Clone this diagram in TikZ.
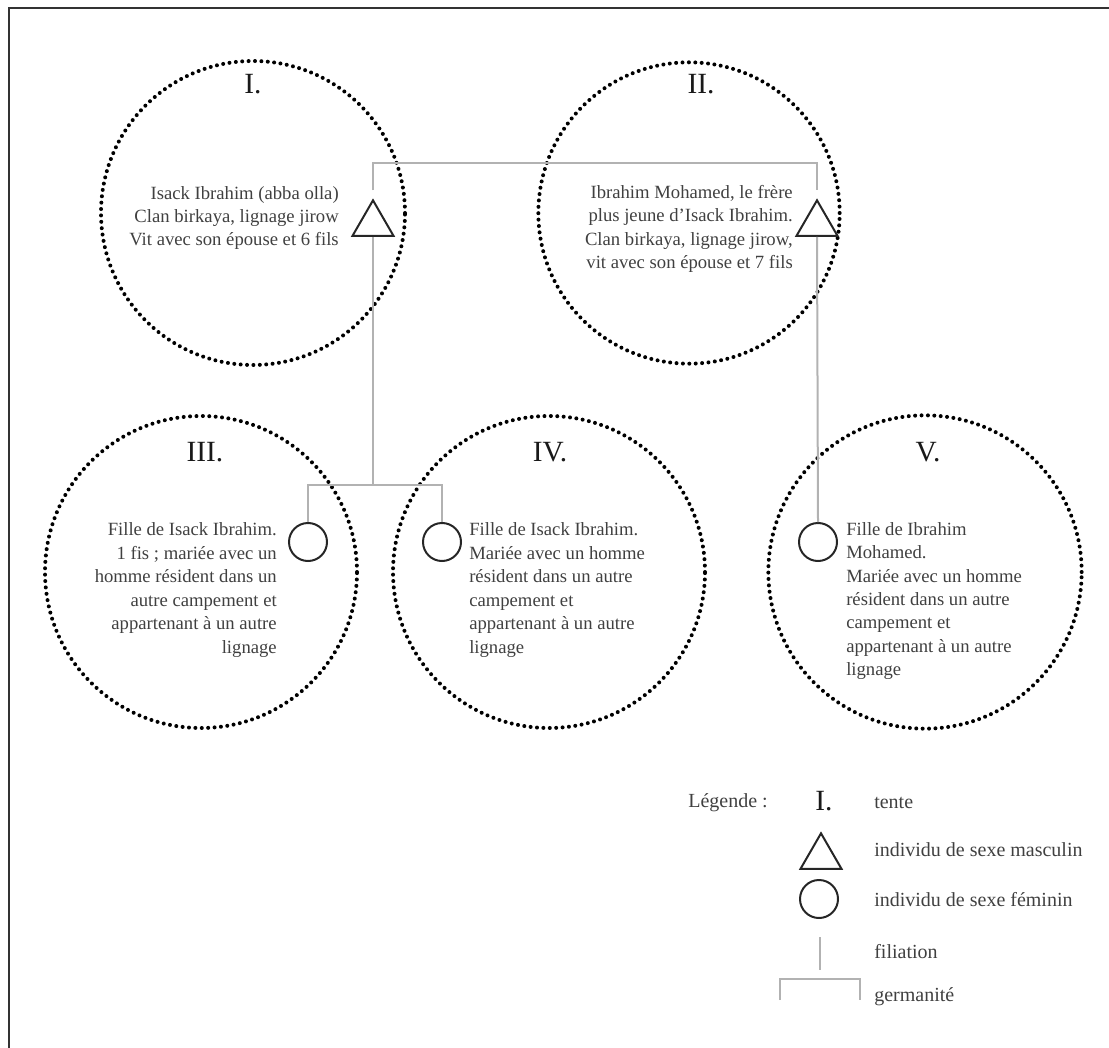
\documentclass[tikz,border=0pt]{standalone}
\usepackage{fontspec}
\setmainfont{Liberation Serif}
\usetikzlibrary{shapes.geometric}

\begin{document}
\begin{tikzpicture}[x=0.75pt, y=-0.75pt,
    tente/.style={circle, draw=black, line width=3pt, line cap=round, dash pattern=on 0pt off 4.8pt, inner sep=0pt},
    numero/.style={font=\fontsize{22}{25}\selectfont, text=black!90, inner sep=0pt},
    homme/.style={regular polygon, regular polygon sides=3, draw=black!85, line width=1.5pt, minimum size=35.5pt, inner sep=0pt},
    femme/.style={circle, draw=black!85, line width=1.5pt, minimum size=28.5pt, inner sep=0pt},
    texte/.style={font=\fontsize{14}{17.6}\selectfont, text=black!75, inner sep=0pt},
    legende/.style={font=\fontsize{15}{18}\selectfont, text=black!75, inner sep=0pt, anchor=west},
    fil/.style={draw=black!30, line width=1.5pt},
    cadre/.style={draw=black!80, line width=2.2pt},
]
    \useasboundingbox (0,0) rectangle (1109,1048);

    % Frame
    \coordinate (cb) at (9,1048);
    \coordinate (ch) at (9,8);
    \coordinate (cd) at (1109,8);
    \draw[cadre] (cb) -- (ch) -- (cd);

    % Define tents
    \node[tente, minimum size=228pt] (T1) at (253,213) {};
    \node[tente, minimum size=226pt] (T2) at (689,213) {};
    \node[tente, minimum size=234pt] (T3) at (201,572) {};
    \node[tente, minimum size=234pt] (T4) at (549,572) {};
    \node[tente, minimum size=235pt] (T5) at (925,572) {};

    \node[numero] (n1) at (253,84) {I.};
    \node[numero] (n2) at (701,84) {II.};
    \node[numero] (n3) at (205,452) {III.};
    \node[numero] (n4) at (550,452) {IV.};
    \node[numero] (n5) at (928,452) {V.};

    % Define individuals
    \node[homme] (H1) at (373,224) {};
    \node[homme] (H2) at (817,224) {};
    \node[femme] (F3) at (308,542) {};
    \node[femme] (F4) at (442,542) {};
    \node[femme] (F5) at (818,542) {};

    % Texts
    \node[texte, anchor=east, align=right] (d1) at (339,218)
        {Isack Ibrahim (abba olla)\\Clan birkaya, lignage jirow\\Vit avec son épouse et 6 fils};
    \node[texte, anchor=east, align=right] (d2) at (793,229)
        {Ibrahim Mohamed, le frère\\plus jeune d'Isack Ibrahim.\\Clan birkaya, lignage jirow,\\vit avec son épouse et 7 fils};
    \node[texte, anchor=east, align=right] (d3) at (277,590)
        {Fille de Isack Ibrahim.\\1 fis ; mariée avec un\\homme résident dans un\\autre campement et\\appartenant à un autre\\lignage};
    \node[texte, anchor=west, align=left] (d4) at (469,590)
        {Fille de Isack Ibrahim.\\Mariée avec un homme\\résident dans un autre\\campement et\\appartenant à un autre\\lignage};
    \node[texte, anchor=west, align=left] (d5) at (846,601)
        {Fille de Ibrahim\\Mohamed.\\Mariée avec un homme\\résident dans un autre\\campement et\\appartenant à un autre\\lignage};

    % Draw links
    \coordinate (g1) at (373,163);
    \coordinate (g2) at (817,163);
    \coordinate (s1) at (373,485);
    \draw[fil, shorten <=6pt, shorten >=6pt] (H1.north) -- (g1) -- (g2) -- (H2.north);
    \draw[fil] (H1.side 2) -- (s1);
    \draw[fil] (F3.north) |- (s1) -| (F4.north);
    \draw[fil] (H2.side 2) -- (F5.north);

    % Legend
    \node[legende, anchor=east] (lg) at (768,803) {Légende :};
    \node[numero] (ln) at (824,801) {I.};
    \node[legende] (l1) at (874,803) {tente};
    \node[homme] (lh) at (821,857) {};
    \node[legende] (l2) at (874,850) {individu de sexe masculin};
    \node[femme] (lf) at (819,899) {};
    \node[legende] (l3) at (874,900) {individu de sexe féminin};
    \coordinate (lf1) at (820,937);
    \coordinate (lf2) at (820,970);
    \draw[fil, line width=1pt] (lf1) -- (lf2);
    \node[legende] (l4) at (874,952) {filiation};
    \coordinate (lb1) at (780,1000);
    \coordinate (lb2) at (780,979);
    \coordinate (lb3) at (860,979);
    \coordinate (lb4) at (860,1000);
    \draw[fil, line width=1pt] (lb1) -- (lb2) -- (lb3) -- (lb4);
    \node[legende] (l5) at (874,997) {germanité};
\end{tikzpicture}
\end{document}
